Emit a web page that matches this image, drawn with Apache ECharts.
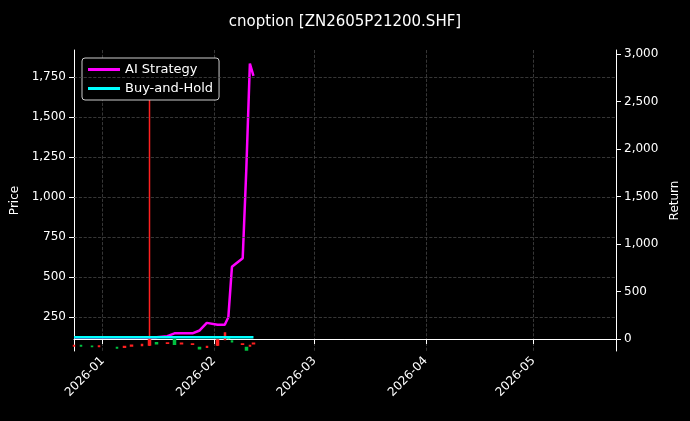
<!DOCTYPE html>
<html>
<head>
<meta charset="UTF-8" />
<script src="https://cdn.jsdelivr.net/npm/echarts@6/dist/echarts.min.js"></script>
<style>
  body { margin: 0; background: #000; }
  #chart { width: 690px; height: 421px; }
</style>
</head>
<body>
<div id="chart"></div>
<script>
// trading days shown on the chart
const dates = ['2025-12-24', '2025-12-26', '2025-12-29', '2025-12-31', '2026-01-05', '2026-01-07',
  '2026-01-09', '2026-01-12', '2026-01-14', '2026-01-16', '2026-01-19', '2026-01-21', '2026-01-23',
  '2026-01-26', '2026-01-28', '2026-01-30', '2026-02-02', '2026-02-04', '2026-02-05', '2026-02-06',
  '2026-02-09', '2026-02-10', '2026-02-11', '2026-02-12'];
// candles: [open, close, low, high]
const candles = [
  [70, 72, 68, 74], [72, 70, 66, 73], [68, 66, 62, 70], [66, 70, 64, 72], [60, 56, 52, 62],
  [62, 66, 60, 68], [70, 74, 66, 76], [72, 78, 70, 80], [75, 106, 70, 1700], [90, 84, 80, 92],
  [86, 88, 82, 90], [110, 80, 78, 112], [84, 86, 80, 88], [80, 82, 76, 84], [60, 52, 48, 62],
  [62, 66, 58, 68], [75, 106, 70, 110], [110, 150, 105, 155], [120, 118, 112, 122], [100, 96, 92, 104],
  [80, 82, 76, 84], [60, 44, 40, 62], [70, 72, 66, 74], [84, 86, 80, 88]];
const aiStrategy = [20, 20, 20, 20, 20, 20, 20, 20, 20, 20, 30, 60, 60, 60, 90, 170, 150, 150, 230,
  760, 850, 1780, 2900, 2770];
const buyHold = [20, 20, 20, 20, 20, 20, 20, 20, 20, 20, 20, 20, 20, 20, 20, 20, 20, 20, 20, 20,
  20, 20, 20, 20];
const priceTicks = [250, 500, 750, 1000, 1250, 1500, 1750];
const returnTicks = [0, 500, 1000, 1500, 2000, 2500, 3000];

const candleData = dates.map((d, i) => [d].concat(candles[i]));
const pair = (arr) => dates.map((d, i) => [d, arr[i]]);

const txt = { color: '#fff', fontFamily: 'DejaVu Sans', fontSize: 12 };
const grid = { lineStyle: { color: '#444', type: 'dashed', width: 0.8 } };

const chart = echarts.init(document.getElementById('chart'));
chart.setOption({
  backgroundColor: '#000',
  animation: false,
  title: {
    text: 'cnoption [ZN2605P21200.SHF]', left: 'center', top: 10,
    textStyle: { color: '#fff', fontFamily: 'DejaVu Sans', fontSize: 15, fontWeight: 'normal' },
  },
  legend: {
    left: 82, top: 58, orient: 'vertical', itemGap: 6,
    borderColor: '#ccc', borderWidth: 1, borderRadius: 3, padding: [5, 6],
    backgroundColor: '#000', itemWidth: 32, itemHeight: 3,
    textStyle: { color: '#fff', fontFamily: 'DejaVu Sans', fontSize: 13 },
    data: [
      { name: 'AI Strategy', icon: 'rect' },
      { name: 'Buy-and-Hold', icon: 'rect' },
    ],
  },
  grid: { left: 74, right: 74, top: 50, bottom: 70 },
  xAxis: {
    type: 'time',
    min: '2025-12-24', max: '2026-05-24',
    splitNumber: 5,
    axisLine: { lineStyle: { color: '#fff' } },
    axisTick: { lineStyle: { color: '#fff' } },
    axisLabel: Object.assign({}, txt, { rotate: 45, formatter: '{yyyy}-{MM}', hideOverlap: true }),
    splitLine: Object.assign({ show: true }, grid),
    minorTick: { show: false },
  },
  yAxis: [
    {
      type: 'value', name: 'Price', nameLocation: 'middle', nameGap: 52,
      nameTextStyle: txt, min: 38, max: 1919,
      axisLine: { show: true, lineStyle: { color: '#fff' } },
      axisTick: { show: true, lineStyle: { color: '#fff' }, customValues: priceTicks },
      axisLabel: Object.assign({}, txt, { customValues: priceTicks }),
      splitLine: { show: false },
    },
    {
      type: 'value', name: 'Return', nameLocation: 'middle', nameGap: 44,
      nameTextStyle: txt, min: -126, max: 3042,
      axisLine: { show: true, lineStyle: { color: '#fff' } },
      axisTick: { show: true, lineStyle: { color: '#fff' }, customValues: returnTicks },
      axisLabel: Object.assign({}, txt, { customValues: returnTicks }),
      splitLine: { show: false },
    },
  ],
  series: [
    {
      type: 'candlestick', name: 'Price', yAxisIndex: 0, barWidth: 2,
      data: candleData,
      itemStyle: { color: '#ff2020', color0: '#00c040', borderColor: '#ff2020', borderColor0: '#00c040', borderWidth: 1.5 },
      markLine: {
        silent: true, symbol: 'none', label: { show: false },
        lineStyle: { color: '#444', type: 'dashed', width: 0.8 },
        data: priceTicks.map((v) => ({ yAxis: v })),
      },
    },
    {
      type: 'line', name: 'AI Strategy', yAxisIndex: 1, data: pair(aiStrategy),
      showSymbol: false, lineStyle: { color: '#ff00ff', width: 2.5 }, itemStyle: { color: '#ff00ff' }, z: 4,
    },
    {
      type: 'line', name: 'Buy-and-Hold', yAxisIndex: 1, data: pair(buyHold),
      showSymbol: false, lineStyle: { color: '#00ffff', width: 2.5 }, itemStyle: { color: '#00ffff' }, z: 5,
    },
  ],
});
</script>
</body>
</html>
